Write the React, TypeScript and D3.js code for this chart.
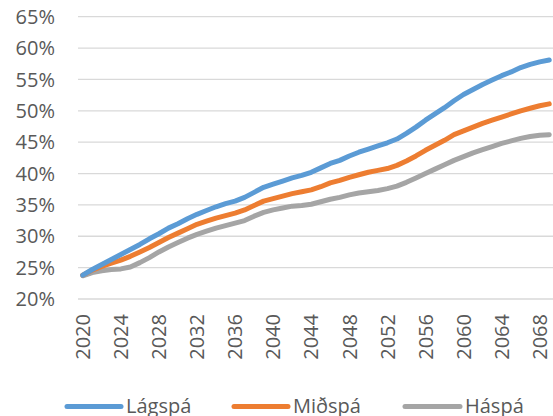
import React from 'react';
import * as d3 from 'd3';

// years 2020..2069
const years = [
  2020, 2021, 2022, 2023, 2024, 2025, 2026, 2027, 2028, 2029,
  2030, 2031, 2032, 2033, 2034, 2035, 2036, 2037, 2038, 2039,
  2040, 2041, 2042, 2043, 2044, 2045, 2046, 2047, 2048, 2049,
  2050, 2051, 2052, 2053, 2054, 2055, 2056, 2057, 2058, 2059,
  2060, 2061, 2062, 2063, 2064, 2065, 2066, 2067, 2068, 2069,
];

const lagspa = [
  23.8, 24.7, 25.5, 26.3, 27.1, 27.9, 28.7, 29.6, 30.4, 31.3,
  32.0, 32.8, 33.5, 34.1, 34.7, 35.2, 35.6, 36.2, 37.0, 37.8,
  38.3, 38.8, 39.3, 39.7, 40.2, 40.9, 41.6, 42.1, 42.8, 43.4,
  43.9, 44.4, 44.9, 45.5, 46.4, 47.4, 48.5, 49.5, 50.5, 51.6,
  52.6, 53.4, 54.2, 54.9, 55.6, 56.2, 56.9, 57.4, 57.8, 58.1,
];

const midspa = [
  23.8, 24.6, 25.2, 25.7, 26.2, 26.8, 27.5, 28.2, 29.0, 29.8,
  30.5, 31.2, 31.9, 32.4, 32.9, 33.3, 33.7, 34.2, 34.9, 35.6,
  36.0, 36.4, 36.8, 37.1, 37.4, 37.9, 38.5, 38.9, 39.4, 39.8,
  40.2, 40.5, 40.8, 41.3, 42.0, 42.8, 43.7, 44.5, 45.3, 46.2,
  46.8, 47.4, 48.0, 48.5, 49.0, 49.5, 50.0, 50.4, 50.8, 51.1,
];

const haspa = [
  23.7, 24.2, 24.5, 24.7, 24.8, 25.1, 25.8, 26.6, 27.5, 28.3,
  29.0, 29.7, 30.3, 30.8, 31.3, 31.7, 32.1, 32.5, 33.2, 33.8,
  34.2, 34.5, 34.8, 34.9, 35.1, 35.5, 35.9, 36.2, 36.6, 36.9,
  37.1, 37.3, 37.6, 38.0, 38.6, 39.3, 40.0, 40.7, 41.4, 42.1,
  42.7, 43.3, 43.8, 44.3, 44.8, 45.2, 45.6, 45.9, 46.1, 46.2,
];

const yTicks = [20, 25, 30, 35, 40, 45, 50, 55, 60, 65];
const xTickYears = years.filter((y) => (y - 2020) % 4 === 0);

const series = [
  { name: 'Lágspá', values: lagspa, color: '#5B9BD5' },
  { name: 'Miðspá', values: midspa, color: '#ED7D31' },
  { name: 'Háspá', values: haspa, color: '#A5A5A5' },
];

const W = 553;
const H = 416;
const font = '"Open Sans", sans-serif';
const textColor = '#595959';

export default function App() {
  const left = 78;
  const right = 554;
  const top = 16.7;
  const bottom = 299;

  const x = d3.scalePoint<number>().domain(years).range([left, right]).padding(0.5);
  const y = d3.scaleLinear().domain([20, 65]).range([bottom, top]);

  const line = d3
    .line<number>()
    .x((d, i) => x(years[i]) as number)
    .y((d) => y(d));

  const legendItems = [
    { x1: 67, x2: 121, tx: 126 },
    { x1: 234, x2: 288, tx: 293 },
    { x1: 405, x2: 460, tx: 465 },
  ];

  return (
    <svg
      width={W}
      height={H}
      style={{ position: 'absolute', left: 0, top: 0, background: '#fff' }}
      fontFamily={font}
    >
      {/* grid */}
      {yTicks.map((t) => (
        <line key={'g' + t} x1={left} x2={553} y1={y(t)} y2={y(t)} stroke="#D9D9D9" strokeWidth={1.3} />
      ))}
      {/* y labels */}
      {yTicks.map((t) => (
        <text key={'yl' + t} x={55} y={y(t)} dy="0.36em" textAnchor="end" fontSize={20} fill={textColor}>
          {t}%
        </text>
      ))}
      {/* x labels */}
      {xTickYears.map((yr) => (
        <text
          key={'xl' + yr}
          transform={'translate(' + (x(yr) as number) + ',314) rotate(-90)'}
          dy="0.36em"
          textAnchor="end"
          fontSize={20}
          fill={textColor}
        >
          {yr}
        </text>
      ))}
      {/* series lines */}
      {series.slice().reverse().map((s) => (
        <path
          key={s.name}
          d={line(s.values) || ''}
          fill="none"
          stroke={s.color}
          strokeWidth={5}
          strokeLinejoin="round"
          strokeLinecap="round"
        />
      ))}
      {/* legend */}
      {series.map((s, i) => (
        <g key={'lg' + s.name}>
          <line
            x1={legendItems[i].x1}
            x2={legendItems[i].x2}
            y1={406.5}
            y2={406.5}
            stroke={s.color}
            strokeWidth={5}
            strokeLinecap="round"
          />
          <text x={legendItems[i].tx} y={413} fontSize={20} fill={textColor}>
            {s.name}
          </text>
        </g>
      ))}
    </svg>
  );
}
